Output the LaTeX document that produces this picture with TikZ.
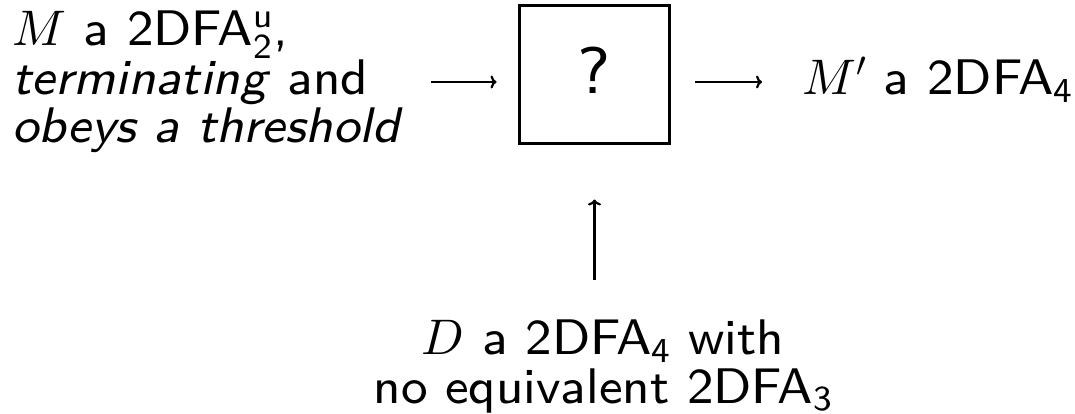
\documentclass[tikz,border=0pt]{standalone}
\usepackage{fontspec}
\setsansfont{lmsans8-regular.otf}[ItalicFont=lmsans8-oblique.otf]
\DeclareFontShape{OML}{cmm}{m}{it}{<->cmmi10}{}
\DeclareFontShape{OMS}{cmsy}{m}{n}{<->cmsy10}{}
\usetikzlibrary{arrows.meta}
\begin{document}
\begin{tikzpicture}[x=1pt,y=-1pt,
  txt/.style={inner sep=0pt,font=\fontsize{50}{48.5}\selectfont\sffamily},
  arr/.style={line width=2.2pt,-{Computer Modern Rightarrow[length=6pt,width=13pt,line width=2.2pt]}},
  qbox/.style={draw,line width=3pt,minimum width=150pt,minimum height=138pt,inner sep=0pt,
    text depth=9pt,font=\fontsize{66}{70}\selectfont\sffamily}]
\useasboundingbox (0,0) rectangle (1075,414);
% anchor=base of a multi-line node is the baseline of its last line
\node[txt,align=left,anchor=base west] (left) at (12,143)
  {$M$ a 2DFA$^{\mathsf{u}}_{\mathsf{2}}$,\\ \textit{terminating} and\\ \textit{obeys a threshold}};
\node[qbox] (box) at (594.5,74.5) {?};
\node[txt,anchor=base west] (right) at (802,95) {$M'$ a 2DFA$_{\mathsf{4}}$};
\node[txt,align=center,anchor=base] (bottom) at (603,403) {$D$ a 2DFA$_{\mathsf{4}}$ with\\ no equivalent 2DFA$_{\mathsf{3}}$};
\coordinate (ax) at (0,82);
\draw[arr,shorten <=28pt,shorten >=21.5pt] (left.east |- ax) -- (box.west |- ax);
\draw[arr,shorten <=23.5pt,shorten >=40pt] (box.east |- ax) -- (right.west |- ax);
\draw[arr,shorten <=40pt,shorten >=54.5pt] (bottom.north -| box.south) -- (box.south);
\end{tikzpicture}
\end{document}
